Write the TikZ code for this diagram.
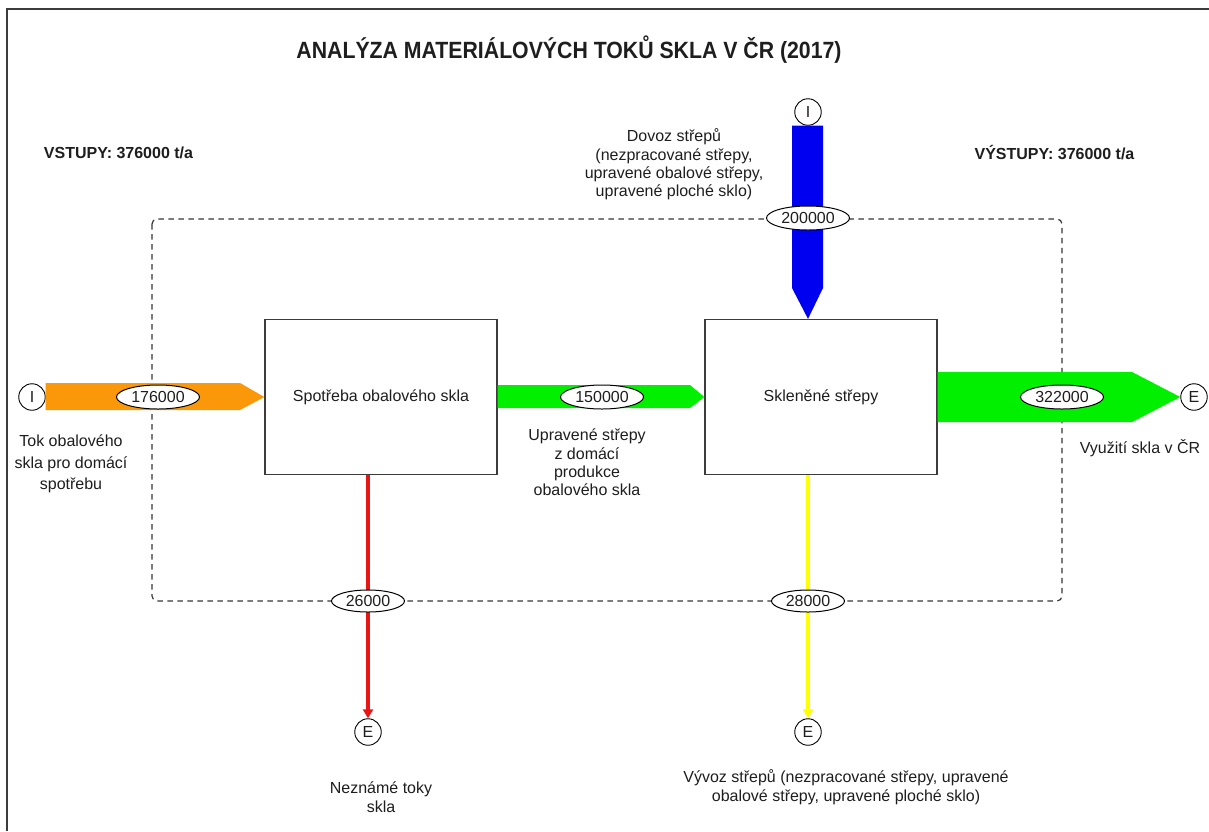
\documentclass[tikz,border=0pt]{standalone}
\usepackage{fontspec}
\setmainfont{Liberation Sans}
\usetikzlibrary{arrows.meta,shapes.geometric}
\definecolor{orangeflow}{RGB}{250,152,10}
\definecolor{greenflow}{RGB}{0,240,0}
\definecolor{blueflow}{RGB}{0,0,240}
\definecolor{redflow}{RGB}{235,20,20}
\definecolor{yellowflow}{RGB}{255,255,0}
\definecolor{framegray}{RGB}{60,60,60}
\definecolor{dashgray}{RGB}{55,55,55}
\definecolor{txt}{RGB}{30,30,30}
\begin{document}
\begin{tikzpicture}[x=1pt,y=-1pt,
  proc/.style={draw=framegray, line width=1.3pt, fill=white, minimum width=232pt, minimum height=155pt, inner sep=0pt, text=txt, font=\fontsize{16}{19}\selectfont},
  term/.style={circle, draw=black, line width=0.9pt, fill=white, minimum size=26.5pt, inner sep=0pt, text=txt, font=\fontsize{16}{18}\selectfont},
  valbig/.style={ellipse, draw=black, line width=1pt, fill=white, minimum width=83pt, minimum height=24pt, inner sep=0pt, text=txt, font=\fontsize{16}{18}\selectfont},
  valsmall/.style={valbig, minimum width=73pt, minimum height=22pt},
  lbl/.style={align=center, text=txt, inner sep=0pt},
  headtxt/.style={lbl, font=\bfseries\fontsize{16}{18}\selectfont},
  flowline/.style={line width=4pt, -{Triangle[width=10pt,length=9pt]}},
]
\useasboundingbox (0,0) rectangle (1209,831);
\fill[white] (0,0) rectangle (1209,831);
% outer frame (top and left edges)
\draw[framegray, line width=1.7pt] (7,831) -- (7,9) -- (1209,9);

% title
\node[lbl, font=\bfseries\fontsize{23.5}{26}\selectfont] (title) at (569,50) {\scalebox{0.905}[1]{ANALÝZA MATERIÁLOVÝCH TOKŮ SKLA V ČR (2017)}};
\node[headtxt] (vstupy) at (118.5,153) {VSTUPY: 376000 t/a};
\node[headtxt] (vystupy) at (1054.5,153) {VÝSTUPY: 376000 t/a};

% system boundary
\draw[dashgray, line width=1.2pt, dash pattern=on 5.5pt off 4.5pt, rounded corners=5pt] (152,219) rectangle (1062,601);

% processes
\node[proc] (box1) at (381,397) {Spotřeba obalového skla};
\node[proc] (box2) at (821,397) {Skleněné střepy};

% terminals
\node[term] (I1) at (32,397) {I};
\node[term] (I2) at (808,112) {I};
\node[term] (E1) at (1194,397) {E};
\node[term] (E2) at (368,732) {E};
\node[term] (E3) at (808,732) {E};

% flows
\fill[orangeflow] (I1.east |- 0,383) -- (240,383) -- (box1.west) -- (240,410) -- (I1.east |- 0,410) -- cycle;
\fill[greenflow] (box1.east |- 0,385) -- (690,385) -- (box2.west) -- (690,408) -- (box1.east |- 0,408) -- cycle;
\fill[greenflow] (box2.east |- 0,372) -- (1132,372) -- (E1.west) -- (1132,422) -- (box2.east |- 0,422) -- cycle;
\fill[blueflow] (792,0 |- I2.south) -- (823,0 |- I2.south) -- (823,288) -- (box2.north -| I2) -- (792,288) -- cycle;
\draw[redflow, flowline] ([xshift=-13pt]box1.south) -- (E2.north);
\draw[yellowflow, flowline] ([xshift=-13pt]box2.south) -- (E3.north);

% values
\node[valbig] (v1) at (158,397) {176000};
\node[valbig] (v2) at (602,397) {150000};
\node[valbig] (v3) at (1062,397) {322000};
\node[valbig] (v4) at (808,218) {200000};
\node[valsmall] (v5) at (368,601) {26000};
\node[valsmall] (v6) at (808,601) {28000};

% labels
\node[lbl, font=\fontsize{16}{21.5}\selectfont] (l1) at (71,464) {Tok obalového\\skla pro domácí\\spotřebu};
\node[lbl, font=\fontsize{16}{18.3}\selectfont] (l2) at (587,462.5) {Upravené střepy\\z domácí\\produkce\\obalového skla};
\node[lbl, font=\fontsize{16}{18}\selectfont] (l3) at (1140,448) {Využití skla v ČR};
\node[lbl, font=\fontsize{16}{18.3}\selectfont] (l4) at (674,164.5) {Dovoz střepů\\(nezpracované střepy,\\upravené obalové střepy,\\upravené ploché sklo)};
\node[lbl, font=\fontsize{16}{19}\selectfont] (l5) at (381,797.5) {Neznámé toky\\skla};
\node[lbl, font=\fontsize{16}{19}\selectfont] (l6) at (846,787.5) {Vývoz střepů (nezpracované střepy, upravené\\obalové střepy, upravené ploché sklo)};
\end{tikzpicture}
\end{document}
